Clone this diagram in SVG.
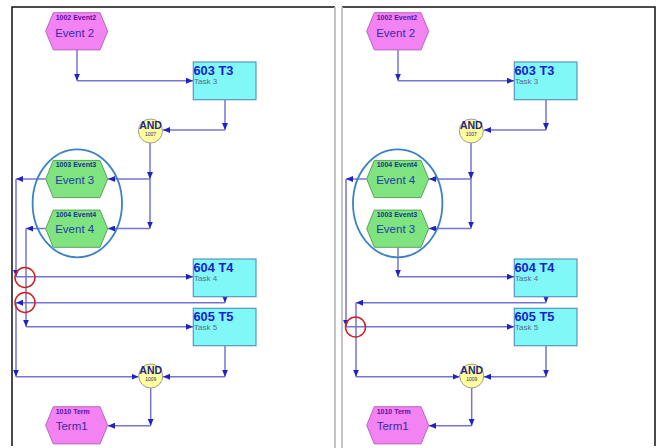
<svg xmlns="http://www.w3.org/2000/svg" xmlns:xlink="http://www.w3.org/1999/xlink" width="657" height="448" viewBox="0 0 657 448">
<style>
.frame{stroke:#111;stroke-width:1.5;fill:none}
.div{stroke:#c4c4c4;stroke-width:2;fill:none}
.c path{stroke:#7474d6;stroke-width:1.5;fill:none;marker-end:url(#ah)}
.mag{fill:#f383f3;stroke:#b866c0;stroke-width:1}
.grn{fill:#7fe37f;stroke:#5aa45a;stroke-width:1}
.task{fill:#80f8f8;stroke:#5a94c4;stroke-width:1.2}
.and{fill:#ffff9c;stroke:#9a9a9a;stroke-width:1}
.grp{fill:none;stroke:#3a82c4;stroke-width:1.8}
.mark{fill:none;stroke:#d42020;stroke-width:1.5}
.sm{font-family:"Liberation Sans",Arial,sans-serif;font-size:7px;font-weight:bold}
.lb{font-family:"Liberation Sans",Arial,sans-serif;font-size:11.5px}
.mg{fill:#5a10a8}
.gn{fill:#14348a}
.lbm{fill:#3a2aa8}
.lbg{fill:#2040a8}
.tt{font-family:"Liberation Sans",Arial,sans-serif;font-size:12.8px;font-weight:bold;fill:#1c1cd0}
.ts{font-family:"Liberation Sans",Arial,sans-serif;font-size:8px;fill:#5a6a8a}
.at{font-family:"Liberation Sans",Arial,sans-serif;font-size:10.5px;font-weight:bold;fill:#24248a;text-anchor:middle}
.an{font-family:"Liberation Sans",Arial,sans-serif;font-size:5px;fill:#24248a;text-anchor:middle}
</style>
<defs>
<marker id="ah" viewBox="0 0 7 6" refX="7" refY="3" markerWidth="7" markerHeight="6" markerUnits="userSpaceOnUse" orient="auto"><path d="M0 0 L7 3 L0 6 z" fill="#2222c4"/></marker>
<polygon id="hex" points="-23.4,-18.6 23.3,-18.6 31,0 23.3,18.6 -23.4,18.6 -31,0"/>
</defs>
<rect width="657" height="448" fill="#fff"/>
<g id="frame">
<path class="frame" d="M12 446 V7 H335 M342 7 H655 V446"/>
<path class="div" d="M335 7 V448 M342 7 V448"/>
</g>
<g id="connectors" class="c">
<path d="M77 50 V80.7"/><path d="M77 80.7 H193"/>
<path d="M225 100 V130"/><path d="M225 130 H163"/>
<path d="M150 143 V179"/><path d="M150 179 H108"/>
<path d="M150 179 V228.5"/><path d="M150 228.5 H108"/>
<path d="M45.7 179 H16"/><path d="M16 179 V276.7"/><path d="M16 276.7 H193"/>
<path d="M45.7 228.5 H26"/><path d="M26 228.5 V326.7"/><path d="M26 326.7 H193"/>
<path d="M225 297 V302.7"/><path d="M225 302.7 H16"/><path d="M16 302.7 V376.7"/><path d="M16 376.7 H138.5"/>
<path d="M225 346 V376.7"/><path d="M225 376.7 H163"/>
<path d="M150.7 388 V425.7"/><path d="M150.7 425.7 H108"/>
<path d="M398 50 V80.7"/><path d="M398 80.7 H514"/>
<path d="M546 100 V130"/><path d="M546 130 H484"/>
<path d="M471 143 V179"/><path d="M471 179 H429"/>
<path d="M471 179 V228.5"/><path d="M471 228.5 H429"/>
<path d="M366.7 179 H346"/><path d="M346 179 V326.7"/><path d="M346 326.7 H514"/>
<path d="M398 247.3 V276.7"/><path d="M398 276.7 H514"/>
<path d="M546 297 V302.7"/><path d="M546 302.7 H356"/><path d="M356 302.7 V376.7"/><path d="M356 376.7 H459.5"/>
<path d="M546 346 V376.7"/><path d="M546 376.7 H484"/>
<path d="M471.7 388 V425.7"/><path d="M471.7 425.7 H429"/>
</g>
<g id="L_event2"><use xlink:href="#hex" class="mag" x="76.7" y="31.3"/><text class="sm mg" x="55.7" y="20">1002 Event2</text><text class="lb lbm" x="55.2" y="36.7">Event 2</text></g>
<g id="L_t3"><rect class="task" x="193.3" y="62" width="62.7" height="37.7"/><text class="tt" x="193.5" y="74.7">603 T3</text><text class="ts" x="194" y="84">Task 3</text></g>
<g id="L_and1007"><circle class="and" cx="150.5" cy="131" r="12"/><text class="at" x="150.5" y="129.3">AND</text><text class="an" x="150.5" y="135.5">1007</text></g>
<g id="L_group"><ellipse class="grp" cx="77.3" cy="203.3" rx="44.7" ry="54"/></g>
<g id="L_event3"><use xlink:href="#hex" class="grn" x="76.7" y="179"/><text class="sm gn" x="55.7" y="167.3">1003 Event3</text><text class="lb lbg" x="55.2" y="183.5">Event 3</text></g>
<g id="L_event4"><use xlink:href="#hex" class="grn" x="76.7" y="228.7"/><text class="sm gn" x="55.7" y="217">1004 Event4</text><text class="lb lbg" x="55.2" y="233.2">Event 4</text></g>
<g id="L_t4"><rect class="task" x="193.3" y="259" width="62.7" height="37.7"/><text class="tt" x="193.5" y="271.7">604 T4</text><text class="ts" x="194" y="281">Task 4</text></g>
<g id="L_t5"><rect class="task" x="193.3" y="308.3" width="62.7" height="37.4"/><text class="tt" x="193.5" y="321">605 T5</text><text class="ts" x="194" y="330.3">Task 5</text></g>
<g id="L_and1009"><circle class="and" cx="150.7" cy="376" r="12"/><text class="at" x="150.7" y="374.3">AND</text><text class="an" x="150.7" y="380.5">1009</text></g>
<g id="L_term1"><use xlink:href="#hex" class="mag" x="76.7" y="425.3"/><text class="sm mg" x="55.7" y="414">1010 Term</text><text class="lb lbm" x="55.7" y="430">Term1</text></g>
<g id="L_marks"><circle class="mark" cx="25" cy="277.5" r="10"/><circle class="mark" cx="25" cy="302.5" r="10"/></g>
<g id="R_event2"><use xlink:href="#hex" class="mag" x="397.7" y="31.3"/><text class="sm mg" x="376.7" y="20">1002 Event2</text><text class="lb lbm" x="376.2" y="36.7">Event 2</text></g>
<g id="R_t3"><rect class="task" x="514.3" y="62" width="62.7" height="37.7"/><text class="tt" x="514.5" y="74.7">603 T3</text><text class="ts" x="515" y="84">Task 3</text></g>
<g id="R_and1007"><circle class="and" cx="471.3" cy="131" r="12"/><text class="at" x="471.3" y="129.3">AND</text><text class="an" x="471.3" y="135.5">1007</text></g>
<g id="R_group"><ellipse class="grp" cx="397.7" cy="203.3" rx="44.7" ry="54"/></g>
<g id="R_event4"><use xlink:href="#hex" class="grn" x="397.7" y="179"/><text class="sm gn" x="376.7" y="167.3">1004 Event4</text><text class="lb lbg" x="376.2" y="183.5">Event 4</text></g>
<g id="R_event3"><use xlink:href="#hex" class="grn" x="397.7" y="228.7"/><text class="sm gn" x="376.7" y="217">1003 Event3</text><text class="lb lbg" x="376.2" y="233.2">Event 3</text></g>
<g id="R_t4"><rect class="task" x="514.3" y="259" width="62.7" height="37.7"/><text class="tt" x="514.5" y="271.7">604 T4</text><text class="ts" x="515" y="281">Task 4</text></g>
<g id="R_t5"><rect class="task" x="514.3" y="308.3" width="62.7" height="37.4"/><text class="tt" x="514.5" y="321">605 T5</text><text class="ts" x="515" y="330.3">Task 5</text></g>
<g id="R_and1009"><circle class="and" cx="471.7" cy="376" r="12"/><text class="at" x="471.7" y="374.3">AND</text><text class="an" x="471.7" y="380.5">1009</text></g>
<g id="R_term1"><use xlink:href="#hex" class="mag" x="397.7" y="425.3"/><text class="sm mg" x="376.7" y="414">1010 Term</text><text class="lb lbm" x="376.7" y="430">Term1</text></g>
<g id="R_marks"><circle class="mark" cx="355.5" cy="327" r="10"/></g>
</svg>
